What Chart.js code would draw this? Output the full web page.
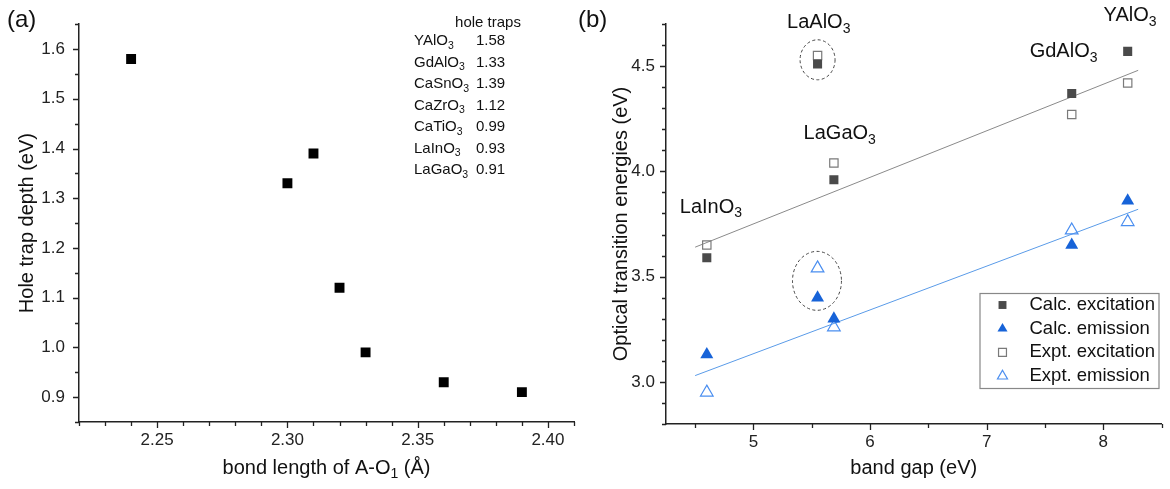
<!DOCTYPE html>
<html>
<head>
<meta charset="utf-8">
<script src="https://cdn.jsdelivr.net/npm/chart.js@4.4.1/dist/chart.umd.min.js"></script>
<style>
  body { margin: 0; background: #fff; width: 1170px; height: 489px; overflow: hidden; position: relative; }
  #chartA { position: absolute; left: 0; top: 0; }
  #chartB { position: absolute; left: 570px; top: 0; }
</style>
</head>
<body>
<canvas id="chartA" width="590" height="489"></canvas>
<canvas id="chartB" width="600" height="489"></canvas>
<script>
// (a) hole trap depth vs bond length
const holeNames = ["YAlO_3", "GdAlO_3", "CaSnO_3", "CaZrO_3", "CaTiO_3", "LaInO_3", "LaGaO_3"];
const holeTraps = [1.58, 1.33, 1.39, 1.12, 0.99, 0.93, 0.91];
const bondLength = [2.24, 2.30, 2.31, 2.32, 2.33, 2.36, 2.39];
const aXTicks = [2.25, 2.30, 2.35, 2.40];
const aYTicks = [0.9, 1.0, 1.1, 1.2, 1.3, 1.4, 1.5, 1.6];

// (b) optical transition energies vs band gap
const hosts = ["LaInO_3", "LaAlO_3", "LaGaO_3", "GdAlO_3", "YAlO_3"];
const bandGap = [4.60, 5.55, 5.69, 7.73, 8.21];
const calcExc = [3.59, 4.51, 3.96, 4.37, 4.57];
const calcEm = [3.13, 3.40, 3.30, 3.65, 3.86];
const exptExc = [3.65, 4.55, 4.04, 4.27, 4.42];
const exptEm = [2.95, 3.54, 3.26, 3.72, 3.76];
// linear fits (end points)
const fitX = [4.5, 8.3];
const fitExc = [3.64, 4.48];
const fitEm = [3.03, 3.82];
const bXTicks = [5, 6, 7, 8];
const bYTicks = [3.0, 3.5, 4.0, 4.5];
// where the host names sit (data units)
const hostLabelX = [4.635, 5.56, 5.74, 7.66, 8.23];
const hostLabelY = [3.83, 4.705, 4.18, 4.57, 4.74];
// dashed circles: centre x, centre y, radius x, radius y
const ringX = [5.55, 5.545];
const ringY = [4.53, 3.48];
const ringRX = [0.15, 0.21];
const ringRY = [0.095, 0.14];

const FONT = '"Liberation Sans", Arial, sans-serif';
Chart.defaults.font.family = FONT;

const pts = (xs, ys) => xs.map((x, i) => ({ x: x, y: ys[i] }));

// text with "_3" style subscripts
function drawRich(ctx, str, x, y, size, align) {
  const segs = str.split(/_(\d)/);
  let w = 0;
  segs.forEach((s, i) => {
    ctx.font = (i % 2 ? size * 0.7 : size) + "px " + FONT;
    w += ctx.measureText(s).width;
  });
  let cx = align === "center" ? x - w / 2 : align === "right" ? x - w : x;
  ctx.textAlign = "left";
  ctx.textBaseline = "middle";
  segs.forEach((s, i) => {
    const sub = i % 2;
    ctx.font = (sub ? size * 0.7 : size) + "px " + FONT;
    ctx.fillText(s, cx, y + (sub ? size * 0.32 : 0));
    cx += ctx.measureText(s).width;
  });
}

// major + minor tick marks pointing outwards
function drawTicks(chart, t) {
  const ctx = chart.ctx, a = chart.chartArea;
  const xs = chart.scales.x, ys = chart.scales.y;
  ctx.save();
  ctx.strokeStyle = "#222";
  ctx.lineWidth = 1.3;
  ctx.beginPath();
  const nx = Math.round((t.x1 - t.x0) / t.xs);
  for (let i = 0; i <= nx; i++) {
    const v = t.x0 + i * t.xs;
    const major = t.xMajor.some(m => Math.abs(m - v) < 1e-6);
    const px = Math.round(xs.getPixelForValue(v)) + 0.5;
    ctx.moveTo(px, a.bottom);
    ctx.lineTo(px, a.bottom + (major ? 6 : 4));
  }
  const ny = Math.round((t.y1 - t.y0) / t.ys);
  for (let i = 0; i <= ny; i++) {
    const v = t.y0 + i * t.ys;
    const major = t.yMajor.some(m => Math.abs(m - v) < 1e-6);
    const py = Math.round(ys.getPixelForValue(v)) + 0.5;
    ctx.moveTo(a.left, py);
    ctx.lineTo(a.left - (major ? 6 : 4), py);
  }
  ctx.stroke();
  ctx.restore();
}

function axisTitles(chart, xt, yt, yx) {
  const ctx = chart.ctx, a = chart.chartArea;
  ctx.save();
  ctx.fillStyle = "#111";
  drawRich(ctx, xt, (a.left + a.right) / 2, 468, 20, "center");
  ctx.translate(yx, (a.top + a.bottom) / 2);
  ctx.rotate(-Math.PI / 2);
  drawRich(ctx, yt, 0, 0, 20, "center");
  ctx.restore();
}

function scaleOpts(min, max, ticks, digits, pad, fit) {
  return {
    type: "linear", min: min, max: max,
    grid: { display: false, drawTicks: false },
    border: { display: true, color: "#222", width: 1.5 },
    ticks: { color: "#222", padding: pad, font: { size: 17 }, callback: v => Number(v).toFixed(digits) },
    afterBuildTicks: s => { s.ticks = ticks.map(v => ({ value: v })); },
    afterFit: fit
  };
}

// ---------- panel (a)
const decorA = {
  id: "decorA",
  afterDraw(chart) {
    const ctx = chart.ctx, a = chart.chartArea;
    drawTicks(chart, { x0: 2.22, x1: 2.41, xs: 0.01, xMajor: aXTicks, y0: 0.85, y1: 1.65, ys: 0.05, yMajor: aYTicks });
    axisTitles(chart, "bond length of A-O_1 (Å)", "Hole trap depth (eV)", 27);
    ctx.save();
    ctx.fillStyle = "#111";
    ctx.font = "24px " + FONT;
    ctx.textAlign = "left";
    ctx.textBaseline = "middle";
    ctx.fillText("(a)", 7, 20);
    // table of hole traps
    drawRich(ctx, "hole traps", a.left + 409, 23, 15, "center");
    holeNames.forEach((n, i) => {
      const y = 41 + i * 21.5;
      drawRich(ctx, n, a.left + 335, y, 15, "left");
      drawRich(ctx, holeTraps[i].toFixed(2), a.left + 397, y, 15, "left");
    });
    ctx.restore();
  }
};

new Chart(document.getElementById("chartA"), {
  type: "scatter",
  data: {
    datasets: [{
      data: pts(bondLength, holeTraps),
      pointStyle: "rect", pointRadius: 7,
      backgroundColor: "#000", borderColor: "#000", borderWidth: 0
    }]
  },
  options: {
    responsive: false, animation: false, events: [],
    layout: { padding: { top: 21, right: 16, left: 0, bottom: 0 } },
    plugins: { legend: { display: false }, tooltip: { enabled: false } },
    scales: {
      x: scaleOpts(2.22, 2.41, aXTicks, 2, 8, s => { s.height = 67; }),
      y: scaleOpts(0.85, 1.65, aYTicks, 1, 14, s => { s.width = 79; })
    }
  },
  plugins: [decorA]
});

// ---------- panel (b)
const decorB = {
  id: "decorB",
  afterDraw(chart) {
    const ctx = chart.ctx, a = chart.chartArea;
    const xs = chart.scales.x, ys = chart.scales.y;
    drawTicks(chart, { x0: 4.5, x1: 8.5, xs: 0.5, xMajor: bXTicks, y0: 2.8, y1: 4.7, ys: 0.1, yMajor: bYTicks });
    axisTitles(chart, "band gap (eV)", "Optical transition energies (eV)", 51);
    ctx.save();
    ctx.fillStyle = "#111";
    ctx.font = "24px " + FONT;
    ctx.textAlign = "left";
    ctx.textBaseline = "middle";
    ctx.fillText("(b)", 8, 20);
    hosts.forEach((h, i) => {
      drawRich(ctx, h, xs.getPixelForValue(hostLabelX[i]), ys.getPixelForValue(hostLabelY[i]), 20, "center");
    });
    // dashed rings
    ctx.strokeStyle = "#444";
    ctx.lineWidth = 1;
    ctx.setLineDash([3, 2.5]);
    ringX.forEach((cx, i) => {
      const px = xs.getPixelForValue(cx), py = ys.getPixelForValue(ringY[i]);
      const rx = xs.getPixelForValue(cx + ringRX[i]) - px;
      const ry = py - ys.getPixelForValue(ringY[i] + ringRY[i]);
      ctx.beginPath();
      ctx.ellipse(px, py, rx, ry, 0, 0, Math.PI * 2);
      ctx.stroke();
    });
    ctx.setLineDash([]);
    // legend box
    const bx = a.right - 182, by = a.bottom - 131, bw = 179, bh = 95;
    ctx.strokeStyle = "#888";
    ctx.lineWidth = 1.2;
    ctx.strokeRect(bx + 0.5, by + 0.5, bw, bh);
    chart.data.datasets.filter(d => d.label).forEach((d, i) => {
      const y = by + 12 + i * 23.7;
      ctx.fillStyle = d.backgroundColor;
      ctx.strokeStyle = d.borderColor;
      ctx.lineWidth = d.borderWidth;
      Chart.helpers.drawPoint(ctx, {
        pointStyle: d.pointStyle, radius: d.pointStyle === "rect" ? 5.6 : 5.8,
        rotation: 0, borderWidth: d.borderWidth
      }, bx + 23, y);
      ctx.fillStyle = "#111";
      drawRich(ctx, d.label, bx + 50, y, 18.5, "left");
    });
    ctx.restore();
  }
};

new Chart(document.getElementById("chartB"), {
  type: "scatter",
  data: {
    datasets: [
      { label: "Calc. excitation", data: pts(bandGap, calcExc), pointStyle: "rect", pointRadius: 6.4,
        backgroundColor: "#4a4a4a", borderColor: "#4a4a4a", borderWidth: 0 },
      { label: "Calc. emission", data: pts(bandGap, calcEm), pointStyle: "triangle", pointRadius: 7.5,
        backgroundColor: "#1763d8", borderColor: "#1763d8", borderWidth: 0 },
      { label: "Expt. excitation", data: pts(bandGap, exptExc), pointStyle: "rect", pointRadius: 5.9,
        backgroundColor: "rgba(255,255,255,0)", borderColor: "#7a7a7a", borderWidth: 1.2 },
      { label: "Expt. emission", data: pts(bandGap, exptEm), pointStyle: "triangle", pointRadius: 7.3,
        backgroundColor: "rgba(255,255,255,0)", borderColor: "#4a8ef0", borderWidth: 1.2 },
      { data: pts(fitX, fitExc), showLine: true, pointRadius: 0, borderColor: "#8a8a8a", borderWidth: 1 },
      { data: pts(fitX, fitEm), showLine: true, pointRadius: 0, borderColor: "#5a9be8", borderWidth: 1 }
    ]
  },
  options: {
    responsive: false, animation: false, events: [],
    layout: { padding: { top: 24, right: 8, left: 0, bottom: 0 } },
    plugins: { legend: { display: false }, tooltip: { enabled: false } },
    scales: {
      x: scaleOpts(4.25, 8.5, bXTicks, 0, 8, s => { s.height = 65; }),
      y: scaleOpts(2.8, 4.7, bYTicks, 1, 11, s => { s.width = 96; })
    }
  },
  plugins: [decorB]
});
</script>
</body>
</html>
